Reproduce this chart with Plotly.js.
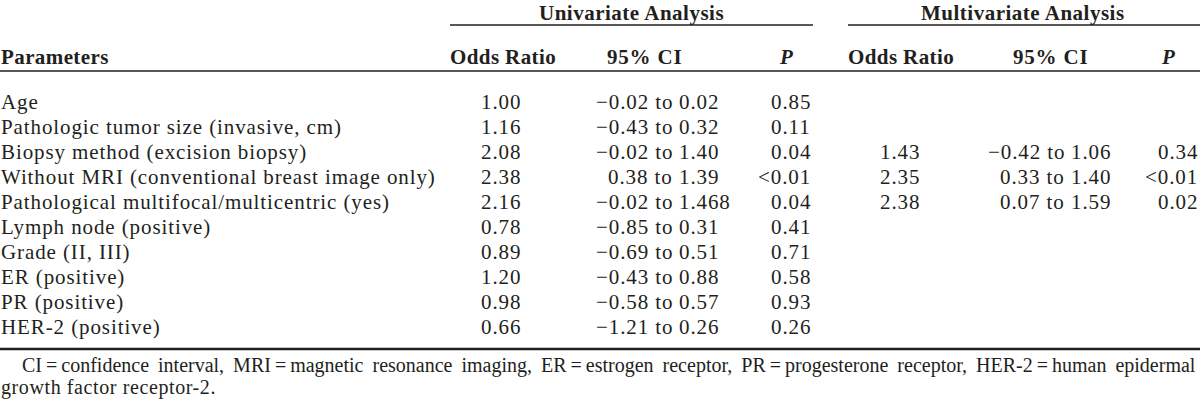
<!DOCTYPE html>
<html>
<head>
<meta charset="utf-8">
<script src="https://cdn.plot.ly/plotly-3.0.1.min.js"></script>
<style>
  html, body { margin: 0; padding: 0; background: #ffffff; }
  #chart { width: 1200px; height: 407px; }
</style>
</head>
<body>
<div id="chart"></div>
<script>
// ---- Data ----
const parameters = [
  "Age",
  "Pathologic tumor size (invasive, cm)",
  "Biopsy method (excision biopsy)",
  "Without MRI (conventional breast image only)",
  "Pathological multifocal/multicentric (yes)",
  "Lymph node (positive)",
  "Grade (II, III)",
  "ER (positive)",
  "PR (positive)",
  "HER-2 (positive)"
];
const uniOddsRatio = ["1.00", "1.16", "2.08", "2.38", "2.16", "0.78", "0.89", "1.20", "0.98", "0.66"];
const uniCILow  = ["\u22120.02", "\u22120.43", "\u22120.02", "0.38", "\u22120.02", "\u22120.85", "\u22120.69", "\u22120.43", "\u22120.58", "\u22121.21"];
const uniCIHigh = ["0.02", "0.32", "1.40", "1.39", "1.468", "0.31", "0.51", "0.88", "0.57", "0.26"];
const uniP      = ["0.85", "0.11", "0.04", "<0.01", "0.04", "0.41", "0.71", "0.58", "0.93", "0.26"];
const multiOddsRatio = [null, null, "1.43", "2.35", "2.38", null, null, null, null, null];
const multiCILow  = [null, null, "\u22120.42", "0.33", "0.07", null, null, null, null, null];
const multiCIHigh = [null, null, "1.06", "1.40", "1.59", null, null, null, null, null];
const multiP      = [null, null, "0.34", "<0.01", "0.02", null, null, null, null, null];
const groupHeaders = ["Univariate Analysis", "Multivariate Analysis"];
const columnHeaders = ["Odds Ratio", "95% CI", "P"];
const footnoteLine1 = "CI\u2009=\u2009confidence interval, MRI\u2009=\u2009magnetic resonance imaging, ER\u2009=\u2009estrogen receptor, PR\u2009=\u2009progesterone receptor, HER-2\u2009=\u2009human epidermal";
const footnoteLine2 = "growth factor receptor-2.";

// ---- Layout ----
const FONT = "Liberation Serif, Times New Roman, serif";
const INK = "#231f20";
const FS = 21;
const rowY0 = 102, rowDY = 25.0;

const ann = [];
function esc(s) { return s.replace(/</g, "&lt;"); }
function sp(s, ls) { return '<span style="letter-spacing:' + ls + 'px">' + s + '</span>'; }
function txt(x, y, text, xanchor, size) {
  ann.push({
    x: x, y: y, xref: "x", yref: "y", text: text, showarrow: false,
    xanchor: xanchor, yanchor: "middle",
    font: { family: FONT, size: size || FS, color: INK },
    borderpad: 0
  });
}

// group headers
txt(631, 13, sp("<b>" + groupHeaders[0] + "</b>", 0.5), "center");
txt(1023, 13, sp("<b>" + groupHeaders[1] + "</b>", 0.5), "center");
// column headers
txt(0, 57, sp("<b>Parameters</b>", 0.4), "left");
txt(503, 57, sp("<b>" + columnHeaders[0] + "</b>", 0.4), "center");
txt(644, 57, sp("<b>" + columnHeaders[1] + "</b>", 0.8), "center");
txt(786, 57, "<b><i>" + columnHeaders[2] + "</i></b>", "center");
txt(901, 57, sp("<b>" + columnHeaders[0] + "</b>", 0.4), "center");
txt(1050, 57, sp("<b>" + columnHeaders[1] + "</b>", 0.8), "center");
txt(1168, 57, "<b><i>" + columnHeaders[2] + "</i></b>", "center");

const LS = 0.9;
parameters.forEach(function (p, i) {
  const y = rowY0 + i * rowDY;
  txt(0, y, sp(p, LS), "left");
  txt(522, y, sp(uniOddsRatio[i], LS), "right");
  txt(674, y, sp(uniCILow[i] + " to", LS), "right");
  txt(678, y, sp(uniCIHigh[i], LS), "left");
  txt(812, y, sp(esc(uniP[i]), LS), "right");
  if (multiOddsRatio[i] !== null) {
    txt(921, y, sp(multiOddsRatio[i], LS), "right");
    txt(1066, y, sp(multiCILow[i] + " to", LS), "right");
    txt(1070, y, sp(multiCIHigh[i], LS), "left");
    txt(1199, y, sp(esc(multiP[i]), LS), "right");
  }
});

txt(21, 365, footnoteLine1.replace(/ /g, " \u2009"), "left", 20);
txt(0, 387, sp(footnoteLine2, 0.6), "left", 20);

const shapes = [
  { type: "line", xref: "x", yref: "y", x0: 450, x1: 813, y0: 25, y1: 25, line: { color: INK, width: 1.5 } },
  { type: "line", xref: "x", yref: "y", x0: 848, x1: 1200, y0: 25, y1: 25, line: { color: INK, width: 1.5 } },
  { type: "line", xref: "x", yref: "y", x0: 0, x1: 1200, y0: 71, y1: 71, line: { color: INK, width: 1.5 } },
  { type: "line", xref: "x", yref: "y", x0: 0, x1: 1200, y0: 349, y1: 349, line: { color: INK, width: 2.5 } }
];

const data = [{ x: [0, 1200], y: [0, 407], mode: "markers", marker: { opacity: 0 }, hoverinfo: "skip", showlegend: false }];

const layout = {
  width: 1200, height: 407,
  margin: { l: 0, r: 0, t: 0, b: 0, pad: 0 },
  paper_bgcolor: "#ffffff", plot_bgcolor: "#ffffff",
  xaxis: { range: [0, 1200], visible: false, fixedrange: true },
  yaxis: { range: [407, 0], visible: false, fixedrange: true },
  annotations: ann,
  shapes: shapes,
  showlegend: false
};

Plotly.newPlot("chart", data, layout, { staticPlot: true, displayModeBar: false });
</script>
</body>
</html>
